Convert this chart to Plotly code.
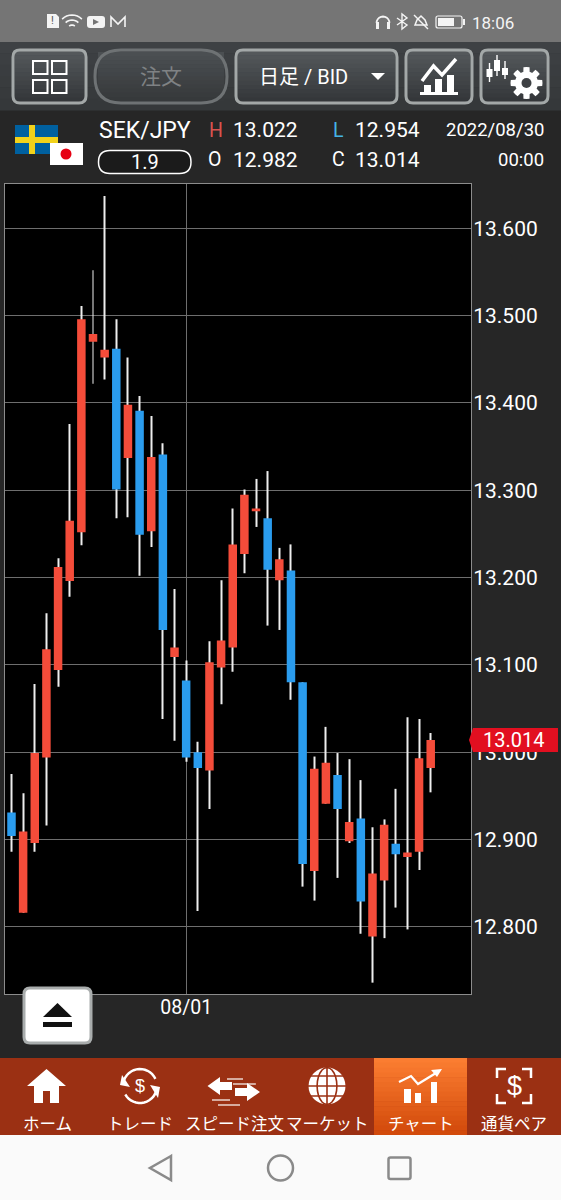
import math
import plotly.graph_objects as go

W, H = 561, 1200
FONT = "Roboto, 'Noto Sans CJK JP', sans-serif"

# SEK/JPY daily candles
dates = ['07/11', '07/12', '07/13', '07/14', '07/15', '07/18', '07/19', '07/20', '07/21', '07/22',
         '07/25', '07/26', '07/27', '07/28', '07/29', '08/01', '08/02', '08/03', '08/04', '08/05',
         '08/08', '08/09', '08/10', '08/11', '08/12', '08/15', '08/16', '08/17', '08/18', '08/19',
         '08/22', '08/23', '08/24', '08/25', '08/26', '08/29', '08/30']
opens = [12.931, 12.816, 12.896, 12.994, 13.094, 13.196, 13.252, 13.470, 13.452, 13.462,
         13.337, 13.391, 13.253, 13.341, 13.109, 13.082, 13.000, 12.979, 13.097, 13.120,
         13.227, 13.276, 13.268, 13.197, 13.208, 13.080, 12.864, 12.941, 12.974, 12.898,
         12.924, 12.789, 12.853, 12.895, 12.880, 12.886, 12.982]
highs = [12.975, 12.953, 13.078, 13.159, 13.222, 13.376, 13.511, 13.552, 13.637, 13.496,
         13.452, 13.408, 13.385, 13.354, 13.187, 13.105, 13.012, 13.127, 13.197, 13.279,
         13.301, 13.313, 13.322, 13.234, 13.238, 13.080, 12.995, 13.029, 12.999, 12.992,
         12.968, 12.914, 12.923, 12.958, 13.040, 13.038, 13.022]
lows = [12.886, 12.816, 12.886, 12.916, 13.075, 13.178, 13.237, 13.422, 13.427, 13.268,
        13.269, 13.202, 13.235, 13.038, 13.013, 12.989, 12.818, 12.935, 13.055, 13.092,
        13.205, 13.258, 13.145, 13.140, 13.060, 12.846, 12.830, 12.941, 12.856, 12.896,
        12.792, 12.736, 12.787, 12.822, 12.797, 12.865, 12.954]
closes = [12.904, 12.909, 12.999, 13.118, 13.212, 13.265, 13.496, 13.479, 13.461, 13.301,
          13.398, 13.249, 13.338, 13.140, 13.120, 12.994, 12.982, 13.103, 13.128, 13.238,
          13.295, 13.279, 13.209, 13.221, 13.080, 12.872, 12.981, 12.988, 12.935, 12.920,
          12.829, 12.861, 12.917, 12.883, 12.885, 12.993, 13.014]
price_ticks = [12.8, 12.9, 13.0, 13.1, 13.2, 13.3, 13.4, 13.5, 13.6]
date_ticks = ['08/01']
last_price = '13.014'

nav_labels = ['ホーム', 'トレード', 'スピード注文', 'マーケット', 'チャート', '通貨ペア']
nav_centers = [47, 140, 234, 327, 421, 514]

RED = '#f44c3a'
BLUE = '#2a9cee'
NAV = '#9b3013'

shapes = []
annotations = []


def px(x):
    return x / W


def py(y):
    return 1 - y / H


def rect(x0, y0, x1, y1, fill, line=None, width=0):
    shapes.append(dict(type='rect', xref='paper', yref='paper', layer='above',
                       x0=px(x0), x1=px(x1), y0=py(y0), y1=py(y1), fillcolor=fill,
                       line=dict(color=line or fill, width=width)))


def circle(cx, cy, r, fill='rgba(0,0,0,0)', line=None, width=0):
    shapes.append(dict(type='circle', xref='paper', yref='paper', layer='above',
                       x0=px(cx - r), x1=px(cx + r), y0=py(cy - r), y1=py(cy + r), fillcolor=fill,
                       line=dict(color=line or fill, width=width)))


def path(d, fill='rgba(0,0,0,0)', line=None, width=0):
    shapes.append(dict(type='path', xref='paper', yref='paper', layer='above', path=d, fillcolor=fill,
                       line=dict(color=line or fill, width=width)))


def poly(points, fill='rgba(0,0,0,0)', line=None, width=0, close=True):
    d = 'M ' + ' L '.join(f'{px(x):.5f},{py(y):.5f}' for x, y in points)
    path(d + (' Z' if close else ''), fill, line, width)


def rrect_path(x0, y0, x1, y1, r):
    p = lambda x, y: f'{px(x):.5f},{py(y):.5f}'
    return (f'M {p(x0 + r, y0)} L {p(x1 - r, y0)} Q {p(x1, y0)} {p(x1, y0 + r)} L {p(x1, y1 - r)} '
            f'Q {p(x1, y1)} {p(x1 - r, y1)} L {p(x0 + r, y1)} Q {p(x0, y1)} {p(x0, y1 - r)} '
            f'L {p(x0, y0 + r)} Q {p(x0, y0)} {p(x0 + r, y0)} Z')


def mix(c0, c1, t):
    a = [int(c0[i:i + 2], 16) for i in (1, 3, 5)]
    b = [int(c1[i:i + 2], 16) for i in (1, 3, 5)]
    return '#' + ''.join(f'{round(u + (v - u) * t):02x}' for u, v in zip(a, b))


def gradient(x0, y0, x1, y1, c0, c1, steps=12):
    h = (y1 - y0) / steps
    for i in range(steps):
        rect(x0, y0 + i * h, x1, y0 + (i + 1) * h + 0.5, mix(c0, c1, i / (steps - 1)))


def text(x, y, s, size, color='#ffffff', anchor='center', family=FONT):
    annotations.append(dict(x=px(x), y=py(y), xref='paper', yref='paper', text=s, showarrow=False,
                            xanchor=anchor, yanchor='middle',
                            font=dict(size=size, color=color, family=family)))


def button(x0, x1, r, border):
    gradient(x0 + 2, 51, x1 - 2, 102, '#54585b', '#34373a')
    path(rrect_path(x0, 50, x1, 103, r), line=border, width=3)


def arc(cx, cy, r, a0, a1, n=14):
    return [(cx + r * math.cos(math.radians(a0 + (a1 - a0) * i / n)),
             cy + r * math.sin(math.radians(a0 + (a1 - a0) * i / n))) for i in range(n + 1)]


# page background bands
rect(0, 0, W, 42, '#757575')
gradient(0, 42, W, 110, '#3e4144', '#35383a', 6)

# status bar
poly([(47, 14), (56, 14), (59, 17), (59, 28), (47, 28)], '#f4f4f4')
text(53, 21, '!', 11, '#555555')
for r in (14, 9, 4):
    poly(arc(72, 29, r, 225, 315, 8), line='#f4f4f4', width=1.6, close=False)
path(rrect_path(87, 16, 105, 28, 3), '#f4f4f4')
poly([(93, 19), (93, 25), (99, 22)], '#757575')
poly([(111, 27), (111, 17), (118, 24), (125, 17), (125, 27)], line='#f4f4f4', width=1.6, close=False)
poly(arc(383, 23, 6.5, 180, 360, 10), line='#f4f4f4', width=1.8, close=False)
rect(376, 22, 379, 29, '#f4f4f4')
rect(387, 22, 390, 29, '#f4f4f4')
poly([(397, 18), (407, 25), (402, 29), (402, 14), (407, 18), (397, 25)], line='#f4f4f4', width=1.4, close=False)
poly([(415, 25), (417, 20), (421, 16), (425, 20), (427, 25)], line='#f4f4f4', width=1.5)
poly([(414, 15), (428, 29)], line='#f4f4f4', width=1.4, close=False)
path(rrect_path(436, 16, 462, 28, 2), line='#f4f4f4', width=1.2)
rect(438, 18, 454, 26, '#f4f4f4')
rect(463, 19, 465, 25, '#f4f4f4')
text(493, 23, '18:06', 17, '#f4f4f4')

# toolbar
button(13, 86, 7, '#a3a8a8')
for x0 in (33, 52):
    for y0 in (61, 80):
        rect(x0, y0, x0 + 14.5, y0 + 13, 'rgba(0,0,0,0)', '#ffffff', 2)
gradient(98, 52, 224, 101, '#4b4f52', '#36393b')
path(rrect_path(95, 50, 227, 103, 26), line='#6e7274', width=3)
text(161, 77, '注文', 21, '#7f8284')
button(236, 397, 7, '#a3a8a8')
text(303, 77, '日足 / BID', 20)
poly([(371, 73), (385, 73), (378, 80)], '#ffffff')
button(406, 472, 7, '#a3a8a8')
rect(420, 92, 458, 95, '#ffffff')
rect(424, 85, 431, 92, '#ffffff')
rect(435, 79, 442, 92, '#ffffff')
rect(447, 75, 454, 92, '#ffffff')
poly([(422, 81), (433.5, 66), (442, 75), (456, 59)], line='#ffffff', width=3.5, close=False)
button(481, 548, 7, '#a3a8a8')
for x, y0, y1, b0, b1 in ((489.5, 63, 82, 69, 77), (497, 55, 76, 60, 71), (505, 61, 79, 68, 75)):
    rect(x - 0.7, y0, x + 0.7, y1, '#ffffff')
    rect(x - 3, b0, x + 3, b1, '#ffffff')
gear = []
for i in range(8):
    a = i * 45
    gear += arc(526.5, 83, 16, a - 11, a + 11, 2) + arc(526.5, 83, 11.5, a + 16, a + 29, 2)
poly(gear, '#ffffff')
circle(526.5, 83, 5, '#3e4144')

# info strip
rect(15, 125, 58, 154, '#00609f')
rect(29, 125, 35, 154, '#f2d21b')
rect(15, 137, 58, 143, '#f2d21b')
rect(50, 143, 83, 165, '#ffffff')
circle(66, 154, 5.5, '#e60012')
text(97, 130, 'SEK/JPY', 23, anchor='left')
path(rrect_path(98.5, 150.5, 191, 173.5, 11.5), '#1b1b1b', '#ffffff', 1.5)
text(145, 162, '1.9', 20)
text(207, 130, 'H', 19.5, '#d9534f', 'left')
text(231, 130, '13.022', 21, anchor='left')
text(331, 130, 'L', 19.5, '#45b4e6', 'left')
text(353, 130, '12.954', 21, anchor='left')
text(206, 160, 'O', 19.5, anchor='left')
text(231, 160, '12.982', 21, anchor='left')
text(330, 160, 'C', 19.5, anchor='left')
text(353, 160, '13.014', 21, anchor='left')
text(546, 130, '2022/08/30', 18.5, anchor='right')
text(546, 160, '00:00', 18.5, anchor='right')

# last price tag
poly([(469, 740), (473, 728), (558, 728), (558, 752), (473, 752)], '#e20f20')
text(513, 740, last_price, 20)

# eject button
path(rrect_path(24, 988, 91, 1043, 6), '#ffffff', '#a9adad', 3)
poly([(43, 1017), (72, 1017), (57.5, 1003)], '#111111')
rect(43, 1022, 72, 1027, '#111111')

# bottom nav
rect(0, 1058, W, 1135, NAV)
gradient(374, 1058, 467, 1135, '#fb7d31', '#d24a0b', 16)
for label, cx in zip(nav_labels, nav_centers):
    text(cx, 1123, label, 16.5, family="'Noto Sans CJK JP', sans-serif")

# home
poly([(46.5, 1069), (27, 1086), (34, 1086), (34, 1103), (59, 1103), (59, 1086), (66, 1086)], '#ffffff')
rect(43, 1091, 50, 1103, NAV)
# trade
poly(arc(140, 1086, 17, 200, 335), line='#ffffff', width=2.5, close=False)
poly(arc(140, 1086, 17, 20, 150), line='#ffffff', width=2.5, close=False)
poly([(120, 1085), (130, 1087), (122, 1075)][::-1], '#ffffff')
poly([(160, 1087), (150, 1085), (158, 1098)], '#ffffff')
text(140, 1086, '$', 18, family='Liberation Sans')
# speed order
poly([(207.5, 1086), (220, 1077), (220, 1082), (232, 1082), (232, 1090), (220, 1090), (220, 1095)], '#ffffff')
poly([(260, 1092), (247, 1083), (247, 1088), (235, 1088), (235, 1096), (247, 1096), (247, 1101)], '#ffffff')
for x0, x1, y in ((227, 243, 1079), (233, 256, 1084), (212, 230, 1100), (218, 240, 1105)):
    rect(x0, y - 0.6, x1, y + 0.6, '#ffffff')
# globe
circle(327, 1086, 18.5, '#ffffff')
for y in (1076, 1086, 1096):
    rect(308, y - 0.8, 346, y + 0.8, NAV)
rect(326.2, 1067, 327.8, 1105, NAV)
for sx in (0.55, -0.55):
    poly([(327 + sx * 18 * math.cos(math.radians(a)), 1086 + 18.5 * math.sin(math.radians(a)))
          for a in range(-90, 91, 15)], line=NAV, width=1.6, close=False)
# chart tab
rect(404, 1089, 411, 1103, '#ffffff')
rect(415, 1093, 421, 1103, '#ffffff')
rect(431, 1082, 437, 1103, '#ffffff')
poly([(399, 1082), (411, 1076), (418, 1084), (436, 1073)], line='#ffffff', width=2.2, close=False)
poly([(431, 1070), (442, 1069), (437, 1077)], '#ffffff')
# currency pair
for cx, sx in ((497, 1), (531, -1)):
    for cy, sy in ((1069, 1), (1103, -1)):
        poly([(cx + sx * 9, cy), (cx, cy), (cx, cy + sy * 9)], line='#ffffff', width=2.5, close=False)
text(514, 1086, '$', 27, family='Liberation Sans')

# android nav bar
rect(0, 1135, W, H, '#fafafa')
poly([(171, 1156), (150, 1168), (171, 1180)], line='#8a8a8a', width=2.5)
circle(280.5, 1168, 12.5, line='#8a8a8a', width=2.5)
path(rrect_path(388.5, 1157.5, 410.5, 1179, 2), line='#8a8a8a', width=2.5)

fig = go.Figure()

# wicks are white and the bodies are not, so the wicks go underneath as thin bars
fig.add_trace(go.Bar(x=dates, base=lows, y=[h - l for h, l in zip(highs, lows)], width=0.085,
                     marker=dict(color='#eeeeee', line=dict(width=0)), hoverinfo='skip'))
fig.add_trace(go.Candlestick(x=dates, open=opens, high=highs, low=lows, close=closes,
                             increasing=dict(fillcolor=RED, line=dict(color=RED, width=0)),
                             decreasing=dict(fillcolor=BLUE, line=dict(color=BLUE, width=0)),
                             whiskerwidth=0))

fig.update_layout(
    width=W, height=H,
    margin=dict(l=0, r=0, t=0, b=0),
    paper_bgcolor='#262626',
    plot_bgcolor='#000000',
    showlegend=False,
    boxmode='overlay', boxgap=0.27, boxgroupgap=0,
    barmode='overlay',
    font=dict(family=FONT, color='#ffffff'),
    shapes=shapes,
    annotations=annotations,
    xaxis=dict(domain=[px(4.5), px(471)], type='category', categoryorder='array', categoryarray=dates,
               range=[-0.6, 39.46], tickvals=date_ticks, ticktext=date_ticks, ticks='',
               showgrid=True, gridcolor='#6e6e6e', gridwidth=1, rangeslider=dict(visible=False),
               showline=True, linecolor='#8c8c8c', linewidth=1, mirror=True, zeroline=False,
               tickfont=dict(size=19.5, color='#ffffff'), ticklabelstandoff=-4, automargin=False),
    yaxis=dict(domain=[py(994), py(183.5)], side='right', range=[12.723, 13.6514], tickvals=price_ticks,
               tickformat='.3f', ticks='', showgrid=True, gridcolor='#6e6e6e', gridwidth=1,
               showline=True, linecolor='#8c8c8c', linewidth=1, mirror=True, zeroline=False,
               tickfont=dict(size=21, color='#ffffff'), ticklabelstandoff=-3, automargin=False),
)

fig.write_html("out.html", config=dict(displayModeBar=False),
               post_script="document.body.style.margin='0';document.body.style.overflow='hidden';")
